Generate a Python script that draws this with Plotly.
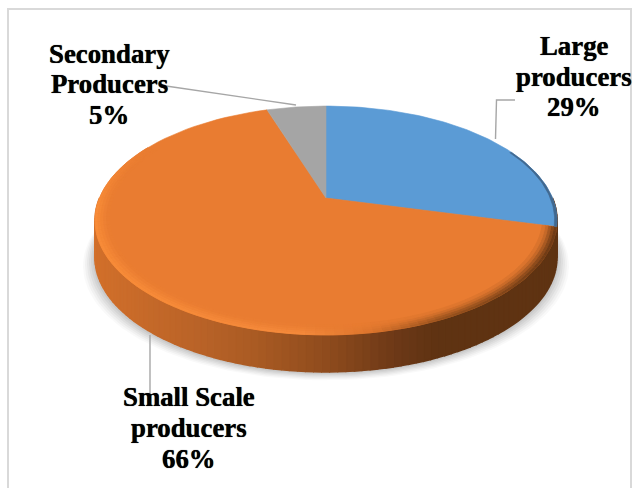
import numpy as np
import plotly.graph_objects as go

categories = ["Large producers", "Small Scale producers", "Secondary Producers"]
values = [29, 66, 5]
colors = ["#5B9BD5", "#E97C31", "#A5A5A5"]

W, H = 637, 488
CX, CY, RX, RY, K = 326.0, 198.0, 226.5, 110.0, 0.1965
DEPTH = 37.0


def project(theta, r=1.0):
    u = r * np.sin(theta)
    v = -r * np.cos(theta)
    d = 1 - K * v
    return CX + RX * u / d, CY + RY * v / d


def hex_rgb(c):
    return np.array([int(c[i:i + 2], 16) for i in (1, 3, 5)], float)


def ramp_rgb(stops, t):
    xs = [s[0] for s in stops]
    arr = np.array([hex_rgb(s[1]) for s in stops])
    return np.array([np.interp(t, xs, arr[:, i]) for i in range(3)])


def css(rgb):
    return "rgb(%d,%d,%d)" % tuple(rgb)


def poly(fig, x, y, color, line=None, width=0.6):
    fig.add_trace(go.Scatter(
        x=list(x), y=list(y), mode="lines", fill="toself", fillcolor=color,
        line=dict(color=line or color, width=width), hoverinfo="skip", showlegend=False))


fig = go.Figure()
full = np.linspace(0, 2 * np.pi, 181)
fx, fy = project(full)

# soft shadow below the disc
for grow, a in [(12, .025), (10, .03), (8, .035), (6, .04), (4, .045), (2, .05)]:
    sx = CX + (fx - CX) * (1 + grow / 231)
    sy = fy + DEPTH + 1 + grow * .62
    poly(fig, sx, sy, "rgba(0,0,0,%g)" % a, line="rgba(0,0,0,0)", width=0)

bounds = np.cumsum([0] + values) / sum(values) * 2 * np.pi

# rim, shaded by horizontal position
rim_stops = [(96, "#D2702B"), (200, "#B96328"), (250, "#AC5C24"), (330, "#8E4B1D"),
             (400, "#6B3817"), (440, "#5F3312"), (560, "#5F3312")]
th = np.linspace(np.pi / 2, 3 * np.pi / 2, 110)
for a, b in zip(th[:-1], th[1:]):
    xa, ya = project(a)
    xb, yb = project(b)
    poly(fig, [xa, xb, xb, xa], [ya, yb, yb + DEPTH, ya + DEPTH],
         css(ramp_rgb(rim_stops, (xa + xb) / 2)), width=1.6)

# top slices
for i, c in enumerate(colors):
    t = np.linspace(bounds[i], bounds[i + 1], 90)
    x, y = project(t)
    poly(fig, np.r_[CX, x, CX], np.r_[CY, y, CY], c)

# bevel along the outer edge of the orange slice, fading out on the far upper left
bevel_stops = [(96, "#F88C38"), (300, "#F58A3C"), (370, "#DD752D"), (440, "#9A531E"), (556, "#6E3B16")]
base = hex_rgb(colors[1])
th = np.linspace(bounds[1], bounds[2], 120)
rings = [(.988, 1.0, 1.0), (.976, .988, .8), (.964, .976, .55), (.952, .964, .3), (.94, .952, .12)]
for r0, r1, mix in rings:
    for a, b in zip(th[:-1], th[1:]):
        fade = np.clip((np.radians(300) - a) / np.radians(35), 0, 1)
        if fade == 0:
            continue
        xa, ya = project(a, r1)
        xb, yb = project(b, r1)
        xc, yc = project(b, r0)
        xd, yd = project(a, r0)
        m = mix * fade
        rgb = ramp_rgb(bevel_stops, (xa + xb) / 2) * m + base * (1 - m)
        poly(fig, [xa, xb, xc, xd], [ya, yb, yc, yd], css(rgb), width=.8)

# dark edge on the right of the blue slice
th = np.linspace(bounds[0] + 1.1, bounds[1], 40)
xo, yo = project(th, 1.0)
xi, yi = project(th, .99)
poly(fig, np.r_[xo, xi[::-1]], np.r_[yo, yi[::-1]], "#41688F")

# leader lines
leaders = [([495.5, 496.5, 515], [139, 100, 100]), ([166, 296], [86, 105]), ([150, 150], [335, 403])]
for lx, ly in leaders:
    fig.add_trace(go.Scatter(x=lx, y=ly, mode="lines", line=dict(color="#A6A6A6", width=1.4),
                             hoverinfo="skip", showlegend=False))

# labels, one annotation per line for exact leading
anchors = [(574, [46, 77, 107]), (189, [397, 428, 459]), (109, [54, 84, 115])]
ann = []
for cat, val, (ax, ays) in zip(categories, values, anchors):
    head, tail = cat.rsplit(" ", 1)
    for text, ay in zip([head, tail, f"{val}%"], ays):
        ann.append(dict(x=ax, y=ay, xref="x", yref="y", text=f"<b>{text}</b>", showarrow=False,
                        xanchor="center", yanchor="middle",
                        font=dict(family="Liberation Serif", size=26.8, color="#000000",
                                  shadow="0 0 0.7px #000")))

fig.update_layout(
    width=W, height=H, margin=dict(l=0, r=0, t=0, b=0), autosize=False,
    paper_bgcolor="white", plot_bgcolor="white", showlegend=False, annotations=ann,
    xaxis=dict(range=[0, W], visible=False, fixedrange=True),
    yaxis=dict(range=[H, 0], visible=False, fixedrange=True),
    shapes=[dict(type="rect", xref="x", yref="y", x0=8, y0=9, x1=631, y1=520,
                 line=dict(color="#D9D9D9", width=2), layer="below")],
)
fig.write_html("out.html", config=dict(displayModeBar=False),
               post_script="document.body.style.margin='0';document.documentElement.style.overflow='hidden';")
